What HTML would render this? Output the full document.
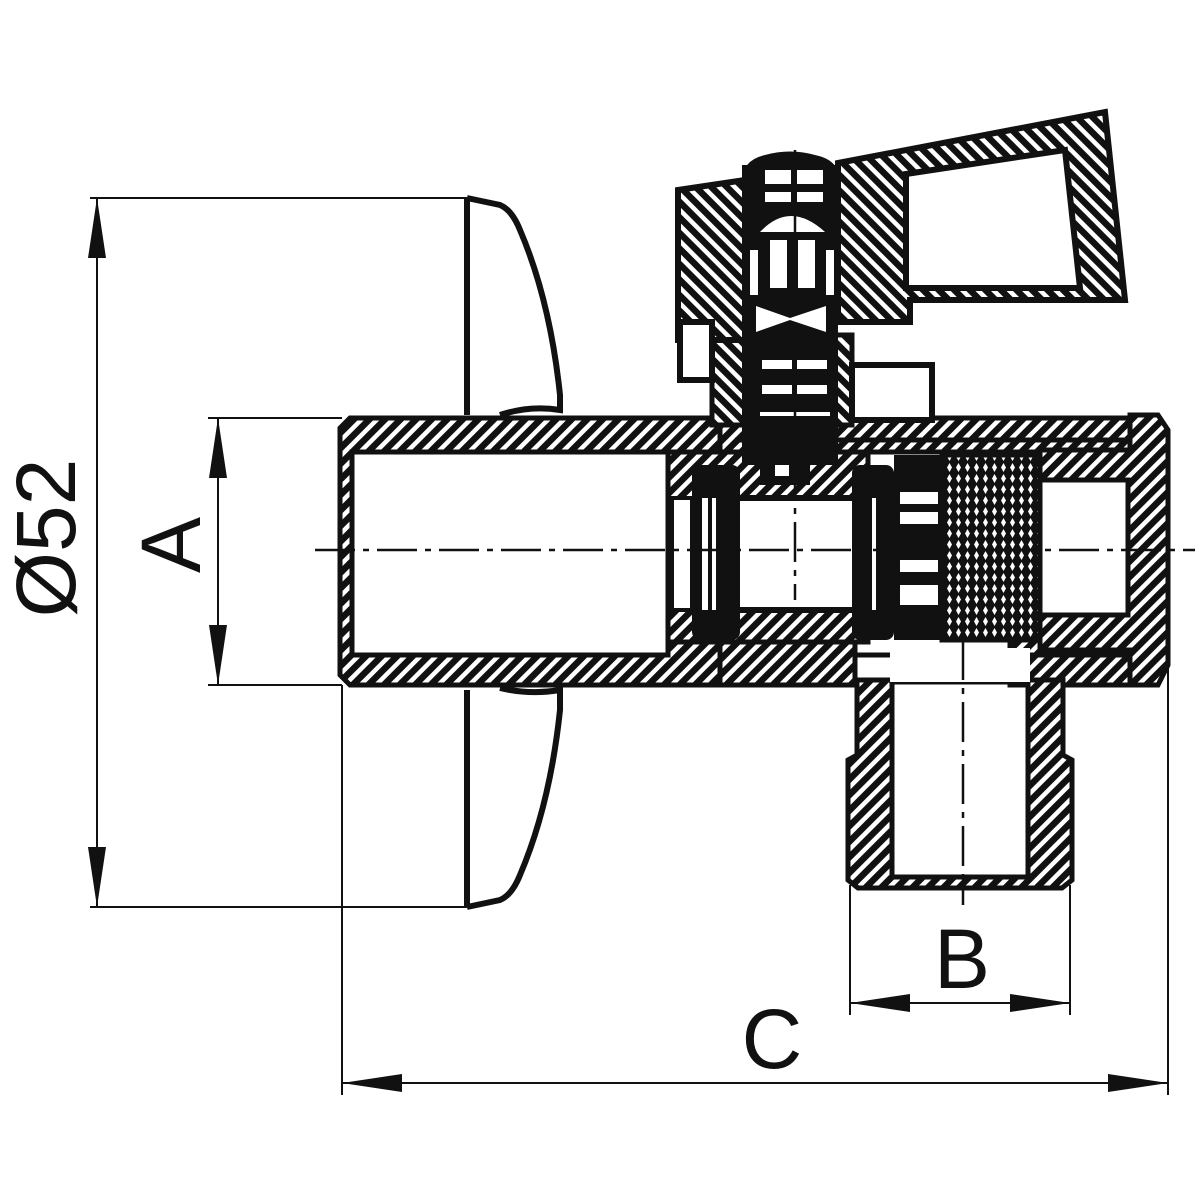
<!DOCTYPE html>
<html><head><meta charset="utf-8"><style>html,body{margin:0;padding:0;background:#fff}svg{display:block}</style></head>
<body>
<svg width="1200" height="1200" viewBox="0 0 1200 1200" xmlns="http://www.w3.org/2000/svg">
<defs>
<pattern id="hb" width="11" height="11" patternUnits="userSpaceOnUse" patternTransform="rotate(45)">
<rect width="11" height="11" fill="#111"/><rect x="0" y="0" width="4.5" height="11" fill="#fff"/></pattern>
<pattern id="hf" width="11" height="11" patternUnits="userSpaceOnUse" patternTransform="rotate(-45)">
<rect width="11" height="11" fill="#111"/><rect x="0" y="0" width="4.5" height="11" fill="#fff"/></pattern>
<pattern id="cx" width="9" height="11" patternUnits="userSpaceOnUse">
<rect width="9" height="11" fill="#111"/><path d="M4.5 1 L7 5.5 L4.5 10 L2 5.5Z" fill="#fff"/></pattern>
</defs>
<g stroke="#111" fill="none" stroke-linecap="butt">
<g stroke-width="2">
<line x1="90" y1="198" x2="467" y2="198"/>
<line x1="90" y1="907" x2="467" y2="907"/>
<line x1="208" y1="418" x2="342" y2="418"/>
<line x1="208" y1="685" x2="342" y2="685"/>
<line x1="97" y1="198" x2="97" y2="907"/>
<line x1="218" y1="418" x2="218" y2="685"/>
<line x1="342" y1="685" x2="342" y2="1095"/>
<line x1="1168" y1="660" x2="1168" y2="1095"/>
<line x1="850" y1="885" x2="850" y2="1015"/>
<line x1="1070" y1="885" x2="1070" y2="1015"/>
<line x1="850" y1="1003" x2="1070" y2="1003"/>
<line x1="342" y1="1083" x2="1168" y2="1083"/>
</g>
<path d="M467 198 L467 415 M467 198 L500 205 Q512 210 520 230 Q550 300 560 395 L560 410 Q530 405 500 415" stroke-width="6"/>
<path d="M467 907 L467 690 M467 907 L500 900 Q512 895 520 875 Q550 805 560 710 L560 690 Q530 695 500 688" stroke-width="6"/>
</g>
<path fill="url(#hb)" stroke="#111" stroke-width="5" fill-rule="evenodd" d="M350 418 L720 418 L720 685 L350 685 L340 675 L340 428 Z M352 452 L668 452 L668 655 L352 655 Z"/>
<rect x="720" y="418" width="420" height="34" fill="url(#hb)" stroke="#111" stroke-width="5"/>
<rect x="720" y="640" width="135" height="45" fill="url(#hb)" stroke="#111" stroke-width="5"/>
<rect x="1010" y="640" width="130" height="45" fill="url(#hb)" stroke="#111" stroke-width="5"/>
<line x1="735" y1="440" x2="1130" y2="440" stroke="#111" stroke-width="5"/>
<line x1="855" y1="655" x2="1130" y2="655" stroke="#111" stroke-width="5"/>
<path fill="url(#hb)" stroke="#111" stroke-width="5" fill-rule="evenodd" d="M1040 450 L1130 450 L1130 415 L1158 415 L1168 430 L1168 665 L1158 685 L1130 685 L1130 650 L1040 650 Z M1040 480 L1128 480 L1128 615 L1040 615 Z"/>
<rect x="668" y="452" width="200" height="190" fill="url(#hb)" stroke="#111" stroke-width="5"/>
<rect x="735" y="498" width="120" height="112" fill="#fff" stroke="#111" stroke-width="6"/>
<rect x="672" y="498" width="20" height="112" fill="#fff" stroke="#111" stroke-width="4"/>
<rect x="692" y="465" width="48" height="175" rx="8" fill="#111"/>
<rect x="702" y="498" width="6" height="112" fill="#fff"/>
<rect x="712" y="498" width="4" height="112" fill="#fff"/>
<rect x="852" y="465" width="42" height="175" rx="8" fill="#111"/>
<rect x="872" y="498" width="4" height="112" fill="#fff"/>
<rect x="894" y="455" width="48" height="185" fill="#111"/>
<rect x="900" y="492" width="38" height="12" fill="#fff"/><rect x="900" y="512" width="38" height="12" fill="#fff"/><rect x="900" y="560" width="38" height="12" fill="#fff"/><rect x="900" y="585" width="38" height="20" fill="#fff"/>
<rect x="760" y="455" width="50" height="30" fill="#111"/>
<rect x="775" y="462" width="14" height="14" fill="#fff"/>
<rect x="942" y="455" width="98" height="185" fill="url(#cx)" stroke="#111" stroke-width="5"/>
<path fill="url(#hb)" stroke="#111" stroke-width="5" fill-rule="evenodd" d="M857 680 L1063 680 L1063 755 L1072 760 L1072 880 L1062 888 L858 888 L848 880 L848 760 L857 755 Z M892 682 L1028 682 L1028 877 L892 877 Z"/>
<rect x="890" y="648" width="140" height="34" fill="#fff"/>
<rect x="712" y="335" width="140" height="90" fill="url(#hf)" stroke="#111" stroke-width="5"/>
<rect x="852" y="365" width="80" height="55" fill="#fff" stroke="#111" stroke-width="6"/>
<path fill="url(#hf)" stroke="#111" stroke-width="6" d="M678 190 L745 180 L745 340 L678 340 Z"/>
<rect x="680" y="322" width="32" height="58" fill="#fff" stroke="#111" stroke-width="6"/>
<path fill="url(#hf)" stroke="#111" stroke-width="6" fill-rule="evenodd" d="M838 163 L1105 112 L1125 300 L910 300 L910 322 L838 322 Z M906 174 L1065 150 L1080 288 L906 288 Z"/>
<rect x="742" y="165" width="96" height="300" fill="#111"/>
<path d="M742 182 Q742 160 765 155 Q790 148 815 155 Q840 160 840 182 Z" fill="#111"/>
<g fill="#fff">
<rect x="765" y="170" width="26" height="14"/><rect x="797" y="170" width="26" height="14"/>
<rect x="765" y="192" width="26" height="10"/><rect x="797" y="192" width="26" height="10"/>
<path d="M760 232 Q790 200 825 232 Z"/>
<rect x="770" y="240" width="17" height="48"/><rect x="798" y="240" width="17" height="48"/>
<rect x="750" y="250" width="8" height="45"/><rect x="826" y="250" width="8" height="45"/>
<path d="M756 306 L790 318 L826 306 L826 332 L790 320 L756 332 Z"/>
<rect x="762" y="360" width="30" height="9"/><rect x="797" y="360" width="30" height="9"/>
<rect x="762" y="385" width="30" height="9"/><rect x="797" y="385" width="30" height="9"/>
<rect x="760" y="412" width="70" height="4"/>
</g>
<g stroke="#111" stroke-width="2.5" stroke-dasharray="40 8 6 8">
<line x1="315" y1="550" x2="1195" y2="550"/>
<line x1="795" y1="150" x2="795" y2="600"/>
<line x1="963" y1="640" x2="963" y2="905"/>
</g>
<g fill="#111">
<path d="M97 198 L88 258 L106 258 Z"/><path d="M97 907 L88 847 L106 847 Z"/>
<path d="M218 418 L209 478 L227 478 Z"/><path d="M218 685 L209 625 L227 625 Z"/>
<path d="M850 1003 L910 994 L910 1012 Z"/><path d="M1070 1003 L1010 994 L1010 1012 Z"/>
<path d="M342 1083 L402 1074 L402 1092 Z"/><path d="M1168 1083 L1108 1074 L1108 1092 Z"/>
</g>
<g font-family="Liberation Sans, sans-serif" font-size="84" fill="#111" text-anchor="middle">
<text transform="translate(75,538) rotate(-90)">Ø52</text>
<text transform="translate(200,545) rotate(-90)">A</text>
<text x="962" y="988">B</text>
<text x="772" y="1068">C</text>
</g>
</svg>
</body></html>
